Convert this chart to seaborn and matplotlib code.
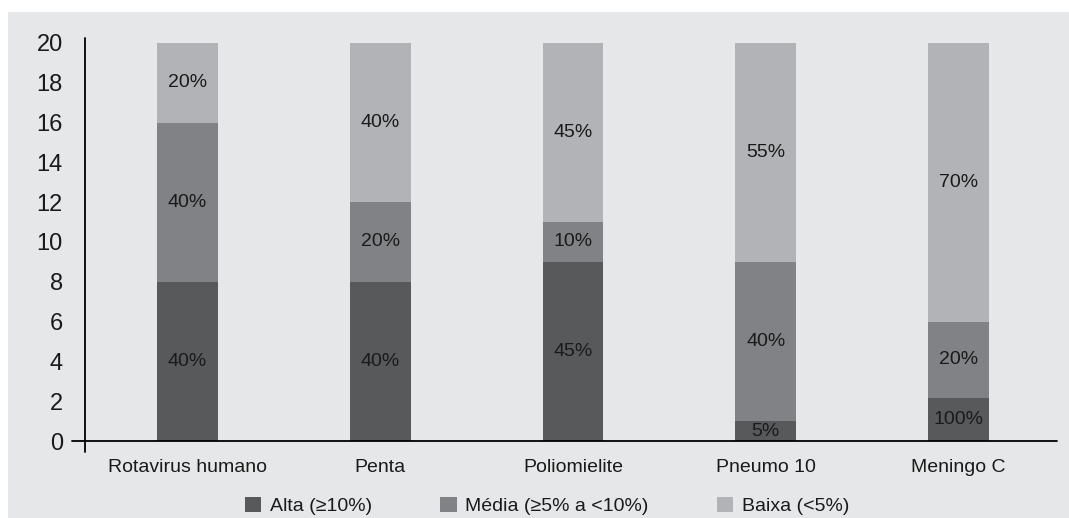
import matplotlib
matplotlib.use("Agg")
import matplotlib.pyplot as plt
from matplotlib.patches import Patch, Rectangle
import seaborn as sns
import pandas as pd
import numpy as np

# Vaccines and number of municipalities in each coverage band
vaccines = ["Rotavirus humano", "Penta", "Poliomielite", "Pneumo 10", "Meningo C"]
alta = [8, 8, 9, 1, 2.15]
media = [8, 4, 2, 8, 3.85]
baixa = [4, 8, 9, 11, 14]

# Percent labels printed on each segment
alta_labels = ["40%", "40%", "45%", "5%", "100%"]
media_labels = ["40%", "20%", "10%", "40%", "20%"]
baixa_labels = ["20%", "40%", "45%", "55%", "70%"]

series_names = ["Alta (\u226510%)", "Média (\u22655% a <10%)", "Baixa (<5%)"]
colors = ["#58595b", "#808285", "#b1b3b6"]
panel = "#e6e7e8"
ink = "#1a1a1a"

sns.set_theme(style="white")
plt.rcParams["font.family"] = ["Liberation Sans", "DejaVu Sans"]

fig = plt.figure(figsize=(10.69, 5.18), dpi=100)
fig.patch.set_facecolor("white")
fig.patches.append(Rectangle((8 / 1069, 0), 1 - 8 / 1069, (518 - 12) / 518,
                             transform=fig.transFigure, facecolor=panel,
                             edgecolor="none", zorder=-10))

ax = fig.add_axes([85 / 1069, 77 / 518, 972 / 1069, 403 / 518])
ax.set_facecolor("none")

df = pd.DataFrame({"vacina": vaccines, "alta": alta, "media": media, "baixa": baixa})
df["top_media"] = df["alta"] + df["media"]
df["top_baixa"] = df["top_media"] + df["baixa"]

bar_w = 0.316
# Stacked bars: draw cumulative totals from the tallest layer down
for col, c in [("top_baixa", colors[2]), ("top_media", colors[1]), ("alta", colors[0])]:
    sns.barplot(data=df, x="vacina", y=col, color=c, width=bar_w,
                saturation=1, ax=ax, zorder=2, edgecolor="none", linewidth=0)

# Segment labels centred in each segment
for i in range(len(vaccines)):
    segs = [(0, alta[i], alta_labels[i]),
            (alta[i], alta[i] + media[i], media_labels[i]),
            (alta[i] + media[i], alta[i] + media[i] + baixa[i], baixa_labels[i])]
    for lo, hi, txt in segs:
        ax.text(i, (lo + hi) / 2, txt, ha="center", va="center",
                fontsize=14, color=ink, zorder=5)

ax.set_xlim(-0.532, 4.511)
ax.set_ylim(0, 20.25)
ax.set_yticks(np.arange(0, 21, 2))
ax.tick_params(axis="y", length=0, pad=16, labelsize=17, labelcolor=ink)
ax.tick_params(axis="x", length=0, pad=13, labelsize=14, labelcolor=ink)
ax.set_xlabel("")
ax.set_ylabel("")
for s in ax.spines.values():
    s.set_visible(False)

# Crossing axis lines
ax.plot([-13 / 972, 1], [0, 0], transform=ax.transAxes, color="black",
        lw=1.3, clip_on=False, zorder=6)
ax.plot([0, 0], [-11 / 403, 1], transform=ax.transAxes, color="black",
        lw=1.3, clip_on=False, zorder=6)

handles = [Patch(facecolor=c, edgecolor="none") for c in colors]
fig.legend(handles, series_names, loc="center", ncol=3, frameon=False,
           bbox_to_anchor=(547 / 1069, 1 - 506 / 518), fontsize=14,
           handlelength=0.85, handleheight=0.85, handletextpad=0.45,
           columnspacing=3.5, labelcolor=ink)

fig.savefig("out.png", dpi=100, facecolor="white")
